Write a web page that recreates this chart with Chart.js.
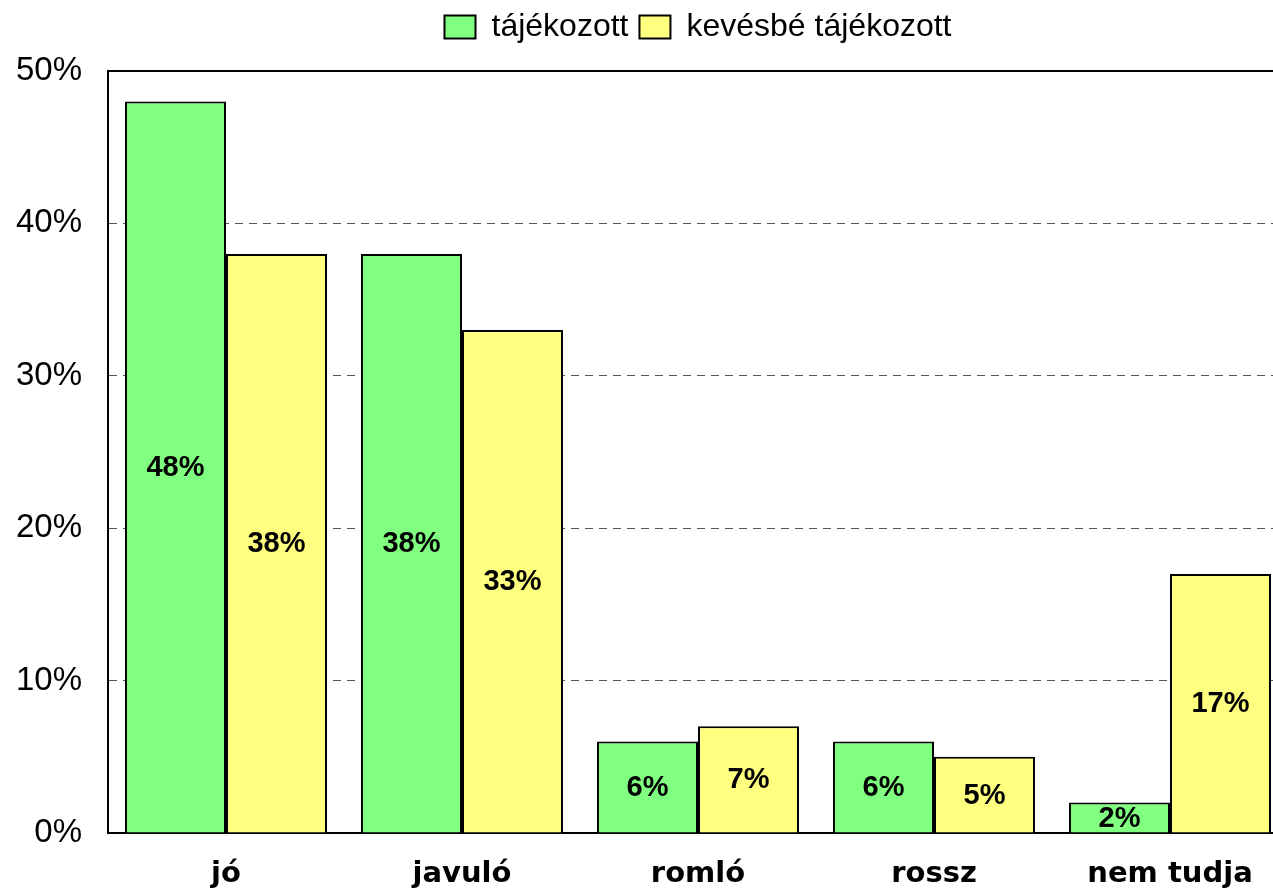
<!DOCTYPE html>
<html>
<head>
<meta charset="utf-8">
<script src="https://cdn.jsdelivr.net/npm/chart.js@4.4.1/dist/chart.umd.min.js"></script>
<style>
  html, body { margin: 0; padding: 0; background: #fff; overflow: hidden; }
  #wrap { position: absolute; left: 0; top: 0; width: 1290px; height: 895px; }
</style>
</head>
<body>
<div id="wrap"><canvas id="c" width="1290" height="895"></canvas></div>
<script>
const categories = ["jó", "javuló", "romló", "rossz", "nem tudja"];
const seriesNames = ["tájékozott", "kevésbé tájékozott"];
const informed = [48, 38, 6, 6, 2];
const lessInformed = [38, 33, 7, 5, 17];
const yTicks = [0, 10, 20, 30, 40, 50];

const SANS = '"Liberation Sans", Arial, sans-serif';

const valueLabels = {
  id: 'valueLabels',
  afterDatasetsDraw(chart) {
    const ctx = chart.ctx;
    ctx.save();
    ctx.font = 'bold 29px ' + SANS;
    ctx.fillStyle = '#000';
    ctx.textAlign = 'center';
    ctx.textBaseline = 'middle';
    chart.data.datasets.forEach((ds, di) => {
      const meta = chart.getDatasetMeta(di);
      meta.data.forEach((el, i) => {
        const v = ds.data[i];
        ctx.fillText(v + '%', el.x, (el.y + el.base) / 2 + 1);
      });
    });
    ctx.restore();
  }
};

const legendSpacing = {
  id: 'legendSpacing',
  beforeInit(chart) {
    const origFit = chart.legend.fit;
    chart.legend.fit = function () {
      origFit.call(this);
      this.height += 18;
    };
  }
};

new Chart(document.getElementById('c'), {
  type: 'bar',
  data: {
    labels: categories,
    datasets: [
      { label: seriesNames[0], data: informed, backgroundColor: '#80FF80', borderColor: '#000', borderWidth: 2 },
      { label: seriesNames[1], data: lessInformed, backgroundColor: '#FFFF80', borderColor: '#000', borderWidth: 2 }
    ]
  },
  options: {
    responsive: false,
    animation: false,
    devicePixelRatio: 1,
    layout: { padding: { left: 14, right: 2, top: 0, bottom: 0 } },
    datasets: { bar: { categoryPercentage: 0.856, barPercentage: 1.0 } },
    plugins: {
      legend: {
        position: 'top',
        fullSize: false,
        labels: {
          font: { family: SANS, size: 32 },
          color: '#000',
          boxWidth: 31,
          boxHeight: 23,
          padding: 11
        }
      },
      tooltip: { enabled: false }
    },
    scales: {
      x: {
        grid: { display: false, drawTicks: false },
        border: { display: true, color: '#000', width: 2 },
        ticks: { font: { family: '"DejaVu Sans", sans-serif', size: 29, weight: 'bold' }, color: '#000', padding: 24 },
        afterFit(scale) { scale.height = 62; }
      },
      y: {
        min: 0, max: 50,
        afterBuildTicks(scale) { scale.ticks = yTicks.map(v => ({ value: v })); },
        grid: {
          drawTicks: false,
          color: (c) => c.tick && c.tick.value === 50 ? '#000' : (c.tick && c.tick.value === 0 ? 'rgba(0,0,0,0)' : '#555'),
          lineWidth: (c) => c.tick && c.tick.value === 50 ? 2 : 1
        },
        border: {
          display: true, color: '#000', width: 2,
          dash: (c) => c.tick && (c.tick.value === 50 || c.tick.value === 0) ? [] : [8, 6]
        },
        ticks: {
          font: { family: SANS, size: 33 },
          color: '#000',
          padding: 26,
          callback: (v) => v + '%'
        },
        afterFit(scale) { scale.width = 94; }
      }
    }
  },
  plugins: [valueLabels, legendSpacing]
});
</script>
</body>
</html>
